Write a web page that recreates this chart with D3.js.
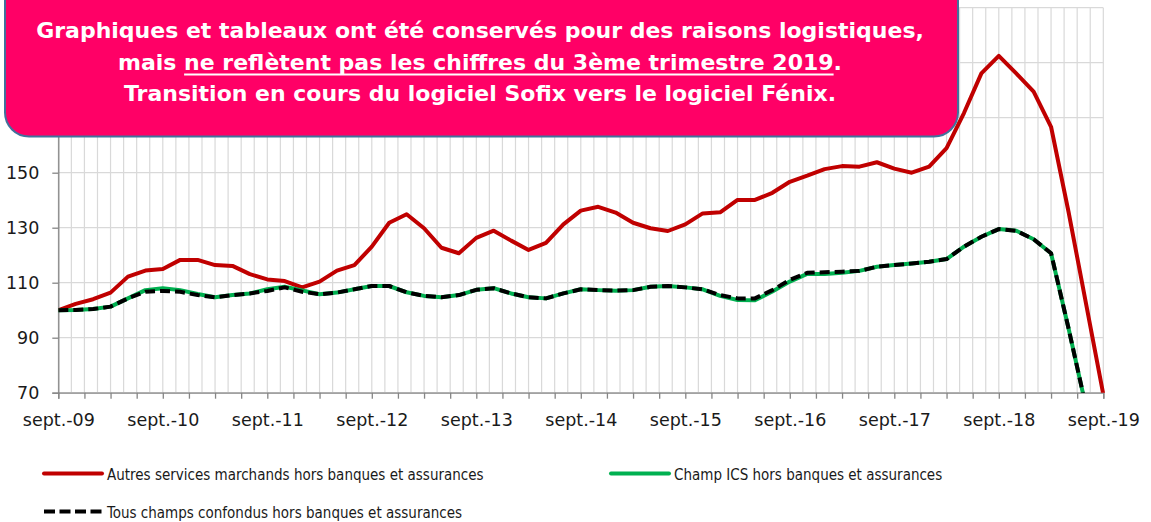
<!DOCTYPE html>
<html>
<head>
<meta charset="utf-8">
<script src="https://cdn.jsdelivr.net/npm/d3@7"></script>
<style>
  body { margin: 0; background: #fff; }
  svg { display: block; }
</style>
</head>
<body>
<svg id="chart" width="1151" height="522"></svg>
<script>
// Bimonthly points from sept.-09 (month 0) to sept.-19 (month 120)
const months = d3.range(0, 121, 2);
const yearLabels = ["sept.-09", "sept.-10", "sept.-11", "sept.-12", "sept.-13", "sept.-14",
  "sept.-15", "sept.-16", "sept.-17", "sept.-18", "sept.-19"];
const yTicks = [70, 90, 110, 130, 150, 170, 190, 210];

const autresServices = [
  100.0, 102.3, 104.0, 106.4, 112.2, 114.4, 115.0, 118.3, 118.3, 116.4,
  116.1, 113.1, 111.2, 110.6, 108.3, 110.4, 114.4, 116.4, 123.1, 131.8,
  134.9, 129.8, 122.7, 120.7, 126.3, 128.9, 125.3, 121.9, 124.5, 131.2,
  136.2, 137.6, 135.5, 131.8, 129.8, 128.8, 131.2, 135.2, 135.6, 140.1,
  140.1, 142.7, 146.7, 148.9, 151.3, 152.4, 152.2, 153.8, 151.5, 150.0,
  152.2, 158.9, 171.7, 186.1, 192.5, 186.1, 179.5, 166.7, 135.9, 102.7,
  69.4
];
const champICS = [
  100.0, 100.1, 100.4, 101.3, 104.3, 107.3, 108.0, 107.3, 105.9, 104.7,
  105.5, 106.1, 107.6, 108.5, 107.2, 105.8, 106.4, 107.6, 108.8, 108.8,
  106.5, 105.2, 104.7, 105.5, 107.4, 108.0, 106.1, 104.7, 104.3, 106.1,
  107.6, 107.3, 107.1, 107.3, 108.5, 108.8, 108.3, 107.6, 105.2, 103.7,
  103.6, 106.8, 110.4, 113.2, 113.2, 113.6, 114.3, 115.8, 116.4, 117.0,
  117.6, 118.6, 123.1, 126.7, 129.5, 128.9, 125.8, 120.7, 93.5, 65.0,
  37.0
];
const tousChamps = [
  100.0, 100.1, 100.4, 101.3, 104.3, 106.7, 107.0, 106.7, 105.5, 104.7,
  105.5, 106.1, 107.0, 108.3, 106.7, 105.8, 106.4, 107.6, 108.8, 108.8,
  106.5, 105.2, 104.7, 105.5, 107.4, 108.0, 106.1, 104.7, 104.3, 106.1,
  107.6, 107.3, 107.1, 107.3, 108.5, 108.8, 108.3, 107.6, 105.5, 104.3,
  104.3, 107.3, 111.0, 113.6, 113.8, 114.0, 114.3, 115.8, 116.4, 117.0,
  117.6, 118.6, 123.1, 126.7, 129.5, 128.9, 125.8, 120.7, 93.5, 65.0,
  37.0
];

const series = [
  { name: "Autres services marchands hors banques et assurances", values: autresServices, color: "#c00000", dash: null },
  { name: "Champ ICS hors banques et assurances", values: champICS, color: "#00b050", dash: null },
  { name: "Tous champs confondus hors banques et assurances", values: tousChamps, color: "#000000", dash: "10,5" }
];

const svg = d3.select("#chart");
const axisFont = "'DejaVu Sans', sans-serif";
const legendFont = "'DejaVu Sans Condensed', 'DejaVu Sans', sans-serif";

const x = d3.scaleLinear().domain([0, 120]).range([58.3, 1103.3]);
const y = d3.scaleLinear().domain([70, 210]).range([392.7, 7.7]);

// Gridlines
const grid = svg.append("g").attr("class", "grid");
grid.selectAll(".vgrid")
  .data(d3.range(0, 120.1, 1.5))
  .enter()
  .append("line")
  .attr("x1", (d) => x(d)).attr("x2", (d) => x(d))
  .attr("y1", y(210)).attr("y2", y(70))
  .attr("stroke", "#d9d9d9").attr("stroke-width", 1.2);
grid.selectAll(".hgrid")
  .data(yTicks)
  .enter()
  .append("line")
  .attr("x1", x(0)).attr("x2", x(120))
  .attr("y1", (d) => y(d)).attr("y2", (d) => y(d))
  .attr("stroke", "#d9d9d9").attr("stroke-width", 1.2);

// Axes
const xAxis = svg.append("g")
  .attr("transform", `translate(0, ${y(70)})`)
  .call(d3.axisBottom(x)
    .tickValues(d3.range(0, 121, 3))
    .tickSize(6)
    .tickPadding(15)
    .tickFormat((d) => (d % 12 === 0 ? yearLabels[d / 12] : "")));
// top label (210) sits under the banner and would be clipped by the page edge
const yAxis = svg.append("g")
  .attr("transform", `translate(${x(0)}, 0)`)
  .call(d3.axisLeft(y).tickValues(yTicks).tickSize(6).tickPadding(13)
    .tickFormat((d) => (d === 210 ? "" : d3.format("d")(d))));

[xAxis, yAxis].forEach((a) => {
  a.select(".domain").attr("stroke", "#868686").attr("stroke-width", 1.3);
  a.selectAll(".tick line").attr("stroke", "#868686").attr("stroke-width", 1.3);
  a.selectAll("text").attr("font-family", axisFont).attr("font-size", 17.5).attr("fill", "#1a1a1a");
});

// Lines
svg.append("clipPath").attr("id", "plot-clip")
  .append("rect")
  .attr("x", x(0)).attr("y", y(210))
  .attr("width", x(120) - x(0) + 2).attr("height", y(70) - y(210));

const line = d3.line()
  .x((d, i) => x(months[i]))
  .y((d) => y(d));

svg.append("g").attr("clip-path", "url(#plot-clip)")
  .selectAll(".series")
  .data(series)
  .enter()
  .append("path")
  .attr("class", "series")
  .attr("d", (d) => line(d.values))
  .attr("fill", "none")
  .attr("stroke", (d) => d.color)
  .attr("stroke-width", 4)
  .attr("stroke-linejoin", "round")
  .attr("stroke-dasharray", (d) => d.dash);

// Legend
const legendPos = [
  { x: 43, y: 473.5 },
  { x: 610, y: 473.5 },
  { x: 43, y: 511.5 }
];
const legend = svg.selectAll(".legend")
  .data(series)
  .enter()
  .append("g")
  .attr("class", "legend")
  .attr("transform", (d, i) => `translate(${legendPos[i].x}, ${legendPos[i].y})`);
legend.append("line")
  .attr("x1", 1).attr("x2", 59)
  .attr("stroke", (d) => d.color)
  .attr("stroke-width", 4)
  .attr("stroke-linecap", (d) => (d.dash ? "butt" : "round"))
  .attr("stroke-dasharray", (d) => (d.dash ? "11,4.5" : null));
legend.append("text")
  .attr("x", 64).attr("y", 6.5)
  .attr("font-family", legendFont)
  .attr("font-size", 15)
  .attr("fill", "#1a1a1a")
  .text((d) => d.name);

// Warning banner
const banner = svg.append("g");
banner.append("rect")
  .attr("x", 5).attr("y", -30)
  .attr("width", 953).attr("height", 166.5)
  .attr("rx", 24)
  .attr("fill", "#ff0066")
  .attr("stroke", "#41719c")
  .attr("stroke-width", 2);

const bannerText = banner.append("g")
  .attr("font-family", axisFont)
  .attr("font-weight", "bold")
  .attr("font-size", 22)
  .attr("fill", "#fff")
  .attr("text-anchor", "middle");
bannerText.append("text").attr("x", 480).attr("y", 38)
  .text("Graphiques et tableaux ont été conservés pour des raisons logistiques,");
const line2 = bannerText.append("text").attr("x", 480).attr("y", 69.5);
const line2a = "mais ";
const line2b = "ne reflètent pas les chiffres du 3ème trimestre 2019";
line2.text(line2a + line2b + ".");
bannerText.append("text").attr("x", 480).attr("y", 100.5)
  .text("Transition en cours du logiciel Sofix vers le logiciel Fénix.");

// Underline of the key phrase
const node = line2.node();
const u0 = node.getStartPositionOfChar(line2a.length).x;
const u1 = node.getEndPositionOfChar(line2a.length + line2b.length - 1).x;
banner.append("line")
  .attr("x1", u0).attr("x2", u1)
  .attr("y1", 74.5).attr("y2", 74.5)
  .attr("stroke", "#fff").attr("stroke-width", 2);
</script>
</body>
</html>
